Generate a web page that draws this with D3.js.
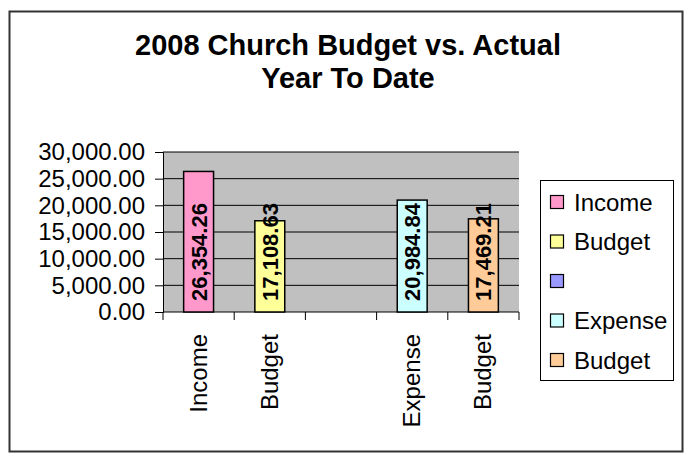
<!DOCTYPE html>
<html>
<head>
<meta charset="utf-8">
<script src="https://cdn.jsdelivr.net/npm/d3@7"></script>
<style>
  body { margin: 0; background: #fff; }
  text { font-family: "Liberation Sans", Arial, sans-serif; }
</style>
</head>
<body>
<div id="chart"></div>
<script>
var svgWidth = 689;
var svgHeight = 455;

// data
var categories = ["Income", "Budget", "", "Expense", "Budget"];
var values = [26354.26, 17108.63, null, 20984.84, 17469.21];
var barColors = ["#FF99CC", "#FFFF99", "#9999FF", "#CCFFFF", "#FFCC99"];
var yTicks = [0, 5000, 10000, 15000, 20000, 25000, 30000];
var titleLines = ["2008 Church Budget vs. Actual", "Year To Date"];

var plot = { left: 163, top: 152, right: 519, bottom: 312 };

var svg = d3.select("#chart")
  .append("svg")
  .attr("width", svgWidth)
  .attr("height", svgHeight);

// outer frame
svg.append("rect")
  .attr("x", 9.5)
  .attr("y", 11.5)
  .attr("width", 673)
  .attr("height", 440)
  .attr("fill", "#fff")
  .attr("stroke", "#333")
  .attr("stroke-width", 2);

// title
svg.append("g").selectAll("text")
  .data(titleLines)
  .enter()
  .append("text")
  .attr("x", 348)
  .attr("y", (d, i) => 55 + i * 33)
  .attr("text-anchor", "middle")
  .attr("font-size", "29px")
  .attr("font-weight", "bold")
  .text(d => d);

var xScale = d3.scaleBand()
  .domain(d3.range(categories.length))
  .range([plot.left, plot.right])
  .paddingInner(0)
  .paddingOuter(0);

var yScale = d3.scaleLinear()
  .domain([0, 30000])
  .range([plot.bottom, plot.top]);

// plot background
svg.append("rect")
  .attr("x", plot.left)
  .attr("y", plot.top)
  .attr("width", plot.right - plot.left)
  .attr("height", plot.bottom - plot.top)
  .attr("fill", "#C0C0C0");

// gridlines
svg.append("g").selectAll("line")
  .data(yTicks.slice(1))
  .enter()
  .append("line")
  .attr("x1", plot.left)
  .attr("x2", plot.right)
  .attr("y1", d => yScale(d))
  .attr("y2", d => yScale(d))
  .attr("stroke", "#000")
  .attr("stroke-width", 1);

// y axis
var leftAxis = d3.axisLeft(yScale)
  .tickValues(yTicks)
  .tickSize(8)
  .tickPadding(10)
  .tickFormat(d3.format(",.2f"));

var yAxis = svg.append("g")
  .attr("transform", `translate(${plot.left}, 0)`)
  .call(leftAxis);
yAxis.select(".domain").attr("stroke", "#000");
yAxis.selectAll("text")
  .attr("font-size", "24px")
  .attr("font-family", "Liberation Sans, Arial, sans-serif")
  .attr("fill", "#000");

// x axis with ticks between categories
var tickXs = d3.range(categories.length + 1).map(i => plot.left + i * xScale.bandwidth());
svg.append("line")
  .attr("x1", plot.left)
  .attr("x2", plot.right)
  .attr("y1", plot.bottom)
  .attr("y2", plot.bottom)
  .attr("stroke", "#000");
svg.append("g").selectAll("line")
  .data(tickXs)
  .enter()
  .append("line")
  .attr("x1", d => d)
  .attr("x2", d => d)
  .attr("y1", plot.bottom)
  .attr("y2", plot.bottom + 8)
  .attr("stroke", "#000");

svg.append("g").selectAll("text")
  .data(categories)
  .enter()
  .append("text")
  .attr("transform", (d, i) => `translate(${xScale(i) + xScale.bandwidth() / 2 + 8}, ${plot.bottom + 22}) rotate(-90)`)
  .attr("text-anchor", "end")
  .attr("font-size", "24px")
  .text(d => d);

// bars
var barW = xScale.bandwidth() * 0.42;
var barData = values.map((v, i) => ({ v: v, i: i })).filter(d => d.v !== null);

svg.append("g").selectAll("rect")
  .data(barData)
  .enter()
  .append("rect")
  .attr("x", d => xScale(d.i) + (xScale.bandwidth() - barW) / 2)
  .attr("y", d => yScale(d.v))
  .attr("width", barW)
  .attr("height", d => yScale(0) - yScale(d.v))
  .attr("fill", d => barColors[d.i])
  .attr("stroke", "#000")
  .attr("stroke-width", 1.5);

// data labels
svg.append("g").selectAll("text")
  .data(barData)
  .enter()
  .append("text")
  .attr("transform", d => `translate(${xScale(d.i) + xScale.bandwidth() / 2 + 8}, 252) rotate(-90)`)
  .attr("text-anchor", "middle")
  .attr("font-size", "22px")
  .attr("font-weight", "bold")
  .text(d => d3.format(",.2f")(d.v));

// legend
var legend = svg.append("g");
legend.append("rect")
  .attr("x", 540.5)
  .attr("y", 180.5)
  .attr("width", 133)
  .attr("height", 200)
  .attr("fill", "#fff")
  .attr("stroke", "#000");

var items = legend.selectAll("g.item")
  .data(categories)
  .enter()
  .append("g")
  .attr("class", "item")
  .attr("transform", (d, i) => `translate(0, ${202 + i * 39.5})`);

items.append("rect")
  .attr("x", 550.5)
  .attr("y", -6.5)
  .attr("width", 13)
  .attr("height", 13)
  .attr("fill", (d, i) => barColors[i])
  .attr("stroke", "#000")
  .attr("stroke-width", 1.2);

items.append("text")
  .attr("x", 574)
  .attr("y", 8.5)
  .attr("font-size", "24px")
  .text(d => d);
</script>
</body>
</html>
